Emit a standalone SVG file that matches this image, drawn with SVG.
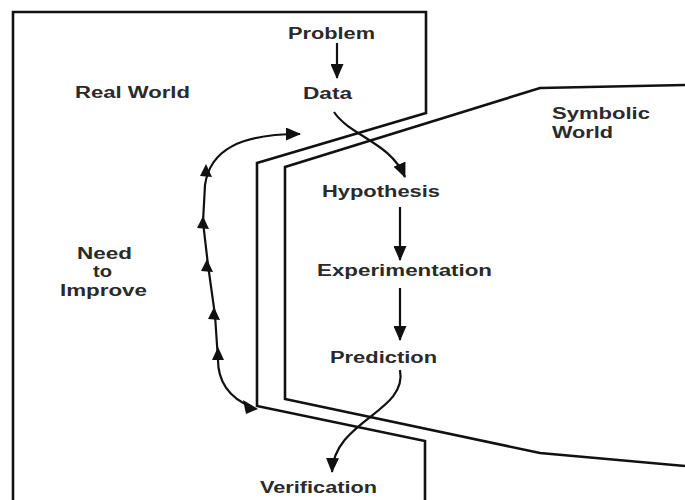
<svg xmlns="http://www.w3.org/2000/svg" width="685" height="500" viewBox="0 0 685 500">
  <style>
    .frame { fill: none; stroke: #111; stroke-width: 2.6; stroke-linejoin: miter; }
    .flow { fill: none; stroke: #111; stroke-width: 2.2; }
    .head { fill: #111; }
    .lbl { font-family: "Liberation Sans", Arial, sans-serif; font-size: 16px; font-weight: bold; fill: #2a2a2a; }
  </style>
  <defs>
    <marker id="tip" viewBox="0 0 15 13" refX="14" refY="6.5" markerWidth="15" markerHeight="13" markerUnits="userSpaceOnUse" orient="auto">
      <path d="M0,0 L15,6.5 L0,13 Z" fill="#111"/>
    </marker>
  </defs>
  <rect width="685" height="500" fill="#ffffff"/>

  <!-- region outlines -->
  <g id="real-world">
    <path class="frame" d="M13,500 L13,12 L426,12 L426,113 L257,163 L257,406 L425,441 L425,500"/>
    <text class="lbl" x="75" y="98" textLength="115" lengthAdjust="spacingAndGlyphs">Real World</text>
  </g>
  <g id="symbolic-world">
    <path class="frame" d="M685,85 L540,88 L285,167 L285,399 L540,453 L685,466"/>
    <text class="lbl" x="552" y="119" textLength="98" lengthAdjust="spacingAndGlyphs">Symbolic</text>
    <text class="lbl" x="552" y="138" textLength="61" lengthAdjust="spacingAndGlyphs">World</text>
  </g>

  <!-- step labels -->
  <g id="problem"><text class="lbl" x="288" y="39" textLength="87" lengthAdjust="spacingAndGlyphs">Problem</text></g>
  <g id="data"><text class="lbl" x="303" y="99" textLength="49" lengthAdjust="spacingAndGlyphs">Data</text></g>
  <g id="hypothesis"><text class="lbl" x="322" y="197" textLength="118" lengthAdjust="spacingAndGlyphs">Hypothesis</text></g>
  <g id="experimentation"><text class="lbl" x="317" y="276" textLength="175" lengthAdjust="spacingAndGlyphs">Experimentation</text></g>
  <g id="prediction"><text class="lbl" x="330" y="363" textLength="107" lengthAdjust="spacingAndGlyphs">Prediction</text></g>
  <g id="verification"><text class="lbl" x="260" y="493" textLength="117" lengthAdjust="spacingAndGlyphs">Verification</text></g>
  <g id="need-to-improve">
    <text class="lbl" x="77" y="259" textLength="55" lengthAdjust="spacingAndGlyphs">Need</text>
    <text class="lbl" x="93" y="277" textLength="19" lengthAdjust="spacingAndGlyphs">to</text>
    <text class="lbl" x="60" y="296" textLength="87" lengthAdjust="spacingAndGlyphs">Improve</text>
  </g>

  <!-- connectors -->
  <g id="connectors">
    <path class="flow" d="M337,43 L337,78" marker-end="url(#tip)"/>
    <path class="flow" d="M334,112 C350,136 390,142 405,177" marker-end="url(#tip)"/>
    <path class="flow" d="M400,207 L400,260" marker-end="url(#tip)"/>
    <path class="flow" d="M400,288 L400,340" marker-end="url(#tip)"/>
    <path class="flow" d="M400,370 C408,412 334,420 332,472" marker-end="url(#tip)"/>
    <!-- feedback loop up the left side -->
    <path class="flow" d="M252,407 C228,398 218,380 218,360 L215,315 L208,265 L203,222 L205,185 C210,150 240,134 300,134" marker-end="url(#tip)"/>
    <polygon class="head" points="243,400 258,409 246,414"/>
    <polygon class="head" points="206,164 212,177 200,176"/>
    <polygon class="head" points="203,216 209,229 197,228"/>
    <polygon class="head" points="207,259 213,272 201,271"/>
    <polygon class="head" points="214,307 220,320 208,319"/>
    <polygon class="head" points="218,347 224,360 212,360"/>
  </g>
</svg>
